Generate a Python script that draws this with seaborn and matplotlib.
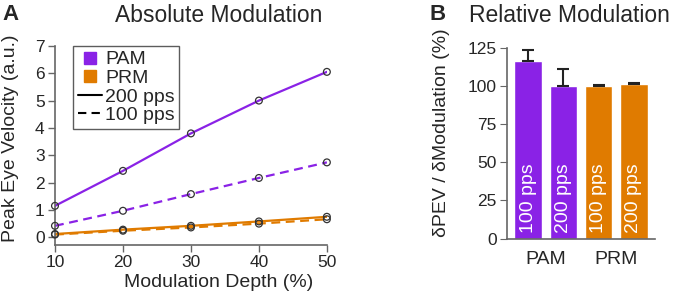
import numpy as np
import pandas as pd
import matplotlib
matplotlib.use('Agg')
import matplotlib.pyplot as plt
import seaborn as sns
from matplotlib.lines import Line2D

sns.set_style('ticks')
plt.rcParams['font.family'] = ['Liberation Sans', 'DejaVu Sans']

# --- data ---
depth = [10, 20, 30, 40, 50]
pam_200 = [1.15, 2.43, 3.8, 5.0, 6.05]
pam_100 = [0.42, 0.97, 1.58, 2.17, 2.74]
prm_200 = [0.12, 0.28, 0.42, 0.58, 0.75]
prm_100 = [0.1, 0.24, 0.36, 0.5, 0.66]

bar_labels = ['PAM 100', 'PAM 200', 'PRM 100', 'PRM 200']
bar_text = ['100 pps', '200 pps', '100 pps', '200 pps']
bar_values = [116, 100.2, 100.2, 101.3]
bar_err = [7.5, 10.7, 0.5, 0.4]
group_labels = ['PAM', 'PRM']

purple = '#8A22E6'
orange = '#E07B00'
grey = '#666666'
bar_colors = [purple, purple, orange, orange]

fig = plt.figure(figsize=(6.73, 2.98), dpi=100)
ax1 = fig.add_axes([0.0817, 0.178, 0.404, 0.668])
ax2 = fig.add_axes([0.7533, 0.199, 0.22, 0.641])

# --- panel A: absolute modulation ---
series = [(prm_100, orange, (4, 2.5)), (prm_200, orange, ''),
          (pam_100, purple, (4, 2.5)), (pam_200, purple, '')]
for vals, col, dash in series:
    sns.lineplot(x=depth, y=vals, ax=ax1, color=col, lw=1.6)
    if dash:
        ax1.lines[-1].set_dashes(dash)
    ax1.scatter(depth, vals, s=24, facecolors='none', edgecolors='#333333',
                linewidths=0.9, zorder=3, clip_on=False)

ax1.set_xlim(10, 50)
ax1.set_ylim(-0.28, 7)
ax1.set_xticks([10, 20, 30, 40, 50])
ax1.set_yticks(range(8))
ax1.tick_params(labelsize=12.5, direction='out', length=5, width=1, color=grey, pad=2.5)
ax1.set_xlabel('Modulation Depth (%)', fontsize=14, va='center')
ax1.xaxis.set_label_coords(0.603, -0.191)
ax1.set_ylabel('Peak Eye Velocity (a.u.)', fontsize=14, va='center')
ax1.yaxis.set_label_coords(-0.165, 0.538)
for s in ['top', 'right']:
    ax1.spines[s].set_visible(False)
for s in ['left', 'bottom']:
    ax1.spines[s].set_color(grey)
    ax1.spines[s].set_linewidth(1.2)

handles = [Line2D([], [], marker='s', ls='none', color=purple, markersize=8, label='PAM'),
           Line2D([], [], marker='s', ls='none', color=orange, markersize=8, label='PRM'),
           Line2D([], [], color='black', lw=1.5, label='200 pps'),
           Line2D([], [], color='black', lw=1.5, dashes=(4, 2.5), label='100 pps')]
leg = ax1.legend(handles=handles, loc='upper left', bbox_to_anchor=(0.066, 1.0),
                 borderaxespad=0, fontsize=14, frameon=True, fancybox=False,
                 handlelength=1.25, handletextpad=0.15, borderpad=0.25,
                 labelspacing=0.05)
leg.get_frame().set_edgecolor('#333333')
leg.get_frame().set_linewidth(1)

# --- panel B: relative modulation ---
df = pd.DataFrame({'cond': bar_labels, 'val': bar_values})
sns.barplot(data=df, x='cond', y='val', hue='cond', palette=bar_colors,
            legend=False, ax=ax2, width=0.78, saturation=1)
xs = np.arange(len(bar_values))
ax2.errorbar(xs, bar_values, yerr=[np.zeros(len(bar_err)), bar_err],
             fmt='none', ecolor='#222222', elinewidth=1.5, capsize=4, capthick=1.5)
for x, t in zip(xs, bar_text):
    ax2.text(x, 3.5, t, rotation=90, color='white', fontsize=14,
             ha='center', va='bottom')

ax2.set_ylim(0, 125)
ax2.set_xlim(-0.6, 3.6)
ax2.set_yticks([0, 25, 50, 75, 100, 125])
ax2.set_xticks([0.5, 2.5])
ax2.set_xticklabels(group_labels)
ax2.tick_params(axis='x', length=0, labelsize=14, pad=9)
ax2.tick_params(axis='y', labelsize=12.5, direction='out', length=5, color=grey, pad=2.5)
ax2.set_xlabel('')
ax2.set_ylabel('δPEV / δModulation (%)', fontsize=14, va='center')
ax2.yaxis.set_label_coords(-0.44, 0.556)
for s in ['top', 'right']:
    ax2.spines[s].set_visible(False)
for s in ['left', 'bottom']:
    ax2.spines[s].set_color(grey)
    ax2.spines[s].set_linewidth(1.2)

# titles and panel letters
fig.text(219 / 673, 1 - 15 / 298, 'Absolute Modulation', fontsize=16.5,
         ha='center', va='center')
fig.text(569 / 673, 1 - 15 / 298, 'Relative Modulation', fontsize=16.5,
         ha='center', va='center')
fig.text(2 / 673, 1 - 14 / 298, 'A', fontsize=16, fontweight='bold', va='center')
fig.text(430 / 673, 1 - 14 / 298, 'B', fontsize=16, fontweight='bold', va='center')

fig.savefig('out.png', dpi=100)
